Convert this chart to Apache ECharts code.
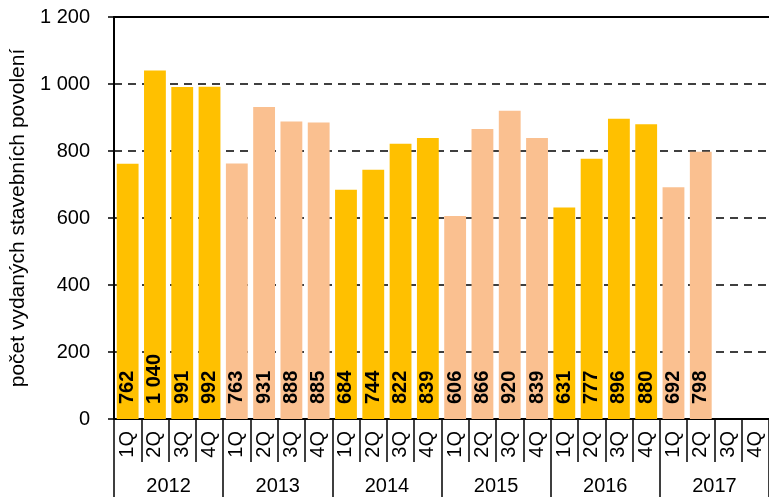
<!DOCTYPE html>
<html>
<head>
<meta charset="utf-8">
<script src="https://cdn.jsdelivr.net/npm/echarts@6/dist/echarts.min.js"></script>
<style>html,body{margin:0;padding:0;background:#fff}#main{width:769px;height:497px}</style>
</head>
<body>
<div id="main"></div>
<script>
var quarters = ['1Q','2Q','3Q','4Q'];
var years = ['2012','2013','2014','2015','2016','2017'];
var values = [762, 1040, 991, 992, 763, 931, 888, 885, 684, 744, 822, 839,
              606, 866, 920, 839, 631, 777, 896, 880, 692, 798, null, null];
var yearColors = ['#FFC000', '#FAC090'];

var font = 'Arial, "Liberation Sans", sans-serif';
function fmt(v) {
    return String(v).replace(/\B(?=(\d{3})+(?!\d))/g, ' ');
}

var cats = [];
years.forEach(function (y) { quarters.forEach(function (q) { cats.push(y + q); }); });

var barData = values.map(function (v, i) {
    var yi = Math.floor(i / 4);
    return { value: v, itemStyle: { color: yearColors[yi % 2] } };
});

var myChart = echarts.init(document.getElementById('main'));
var option = {
    backgroundColor: '#fff',
    animation: false,
    grid: { left: 114, right: 0, top: 17, bottom: 78 },
    xAxis: [
        {
            type: 'category',
            data: cats,
            axisLine: { lineStyle: { color: '#000', width: 2 } },
            axisTick: { show: true, length: 43, lineStyle: { color: '#000', width: 1.5 } },
            axisLabel: {
                rotate: 90, margin: 12, color: '#000', fontSize: 20, fontFamily: font,
                formatter: function (v) { return v.slice(4); }
            }
        },
        {
            type: 'category',
            position: 'bottom',
            data: years,
            axisLine: { show: false },
            axisTick: { show: true, length: 78, lineStyle: { color: '#000', width: 1.5 } },
            axisLabel: { margin: 57, color: '#000', fontSize: 20, fontFamily: font }
        },
        {
            type: 'category',
            position: 'top',
            data: cats,
            axisLine: { lineStyle: { color: '#000', width: 2 } },
            axisTick: { show: false },
            axisLabel: { show: false }
        }
    ],
    yAxis: {
        type: 'value',
        min: 0, max: 1200, interval: 200,
        name: 'počet vydaných stavebních povolení',
        nameLocation: 'middle',
        nameGap: 81,
        nameTextStyle: { color: '#000', fontSize: 21, fontFamily: font },
        axisLine: { show: true, lineStyle: { color: '#000', width: 2 } },
        axisTick: { show: true, length: 6, lineStyle: { color: '#000', width: 1.5 } },
        axisLabel: { color: '#000', fontSize: 20, fontFamily: font, margin: 24, formatter: fmt },
        splitLine: { lineStyle: { color: '#000', type: [8, 6], width: 1.5 } }
    },
    series: [{
        type: 'bar',
        xAxisIndex: 0,
        data: barData,
        barCategoryGap: '20%',
        label: {
            show: true,
            position: 'insideBottom',
            rotate: 90,
            align: 'left',
            verticalAlign: 'middle',
            distance: 15,
            color: '#000',
            fontWeight: 'bold',
            fontSize: 20,
            fontFamily: font,
            formatter: function (p) { return fmt(p.value); }
        }
    }]
};
myChart.setOption(option);
</script>
</body>
</html>
